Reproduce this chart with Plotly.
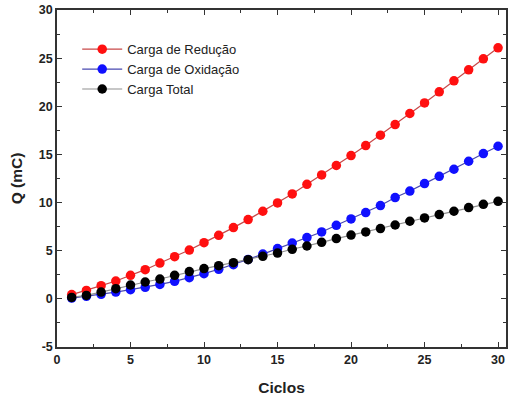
import plotly.graph_objects as go

ciclos = list(range(1, 31))
reducao = [0.44, 0.88, 1.37, 1.85, 2.44, 3.03, 3.72, 4.38, 5.07, 5.84,
           6.60, 7.40, 8.23, 9.10, 9.96, 10.90, 11.90, 12.87, 13.85, 14.88,
           15.92, 17.00, 18.10, 19.25, 20.35, 21.50, 22.64, 23.79, 24.93, 26.07]
oxidacao = [0.08, 0.26, 0.47, 0.70, 0.95, 1.20, 1.50, 1.82, 2.20, 2.62,
            3.07, 3.55, 4.10, 4.65, 5.22, 5.80, 6.36, 6.95, 7.64, 8.30,
            8.96, 9.69, 10.52, 11.20, 11.97, 12.73, 13.46, 14.29, 15.09, 15.85]
total = [0.15, 0.36, 0.70, 1.06, 1.44, 1.75, 2.06, 2.44, 2.83, 3.14,
         3.45, 3.76, 4.07, 4.42, 4.76, 5.15, 5.49, 5.87, 6.26, 6.63,
         6.95, 7.30, 7.67, 8.06, 8.40, 8.75, 9.10, 9.48, 9.82, 10.13]

x_ticks = [0, 5, 10, 15, 20, 25, 30]
x_labels = ["0", "5", "10", "15", "20", "25", "30"]
y_ticks = [-5, 0, 5, 10, 15, 20, 25, 30]
y_labels = ["-5", "0", "5", "10", "15", "20", "25", "30"]

series = [
    ("Carga de Redução", reducao, "#ff1010", "#c84848"),
    ("Carga de Oxidação", oxidacao, "#1010ff", "#4848b0"),
    ("Carga Total", total, "#000000", "#909090"),
]

fig = go.Figure()
for name, vals, mc, lc in series:
    fig.add_trace(go.Scatter(
        x=ciclos, y=vals, name=name, mode="lines+markers",
        line=dict(color=lc, width=1.2),
        marker=dict(color=mc, size=9.5, line=dict(width=0)),
    ))

axis_common = dict(
    showline=True, linecolor="#333333", linewidth=1.5, mirror="ticks",
    ticks="inside", ticklen=5, tickwidth=1.2, tickcolor="#333333",
    showgrid=False, zeroline=False, tickmode="array",
    tickfont=dict(family="Liberation Sans, Arial", size=12.5, color="#222222", weight="bold"),
    minor=dict(ticks="inside", ticklen=3, tickwidth=1, tickcolor="#333333", showgrid=False),
)

fig.update_xaxes(range=[0, 30.54], tickvals=x_ticks, ticktext=x_labels,
                 minor_tickvals=[2.5, 7.5, 12.5, 17.5, 22.5, 27.5], **axis_common,
                 title=dict(text="Ciclos", font=dict(family="Liberation Sans, Arial", size=15.5,
                                                     color="#222222", weight="bold"), standoff=16))
fig.update_yaxes(range=[-5, 30], tickvals=y_ticks, ticktext=y_labels,
                 minor_tickvals=[-2.5, 2.5, 7.5, 12.5, 17.5, 22.5, 27.5], **axis_common,
                 title=dict(text="Q (mC)", font=dict(family="Liberation Sans, Arial", size=15.5,
                                                     color="#222222", weight="bold"), standoff=12))

fig.update_layout(
    width=508, height=397,
    margin=dict(l=57, r=0, t=10, b=50),
    paper_bgcolor="white", plot_bgcolor="white",
    legend=dict(x=0.045, y=0.928, xanchor="left", yanchor="top",
                bgcolor="rgba(0,0,0,0)",
                font=dict(family="Liberation Sans, Arial", size=13, color="#222222"),
                itemwidth=40, tracegroupgap=0),
    showlegend=True,
)

fig.write_html("out.html")
